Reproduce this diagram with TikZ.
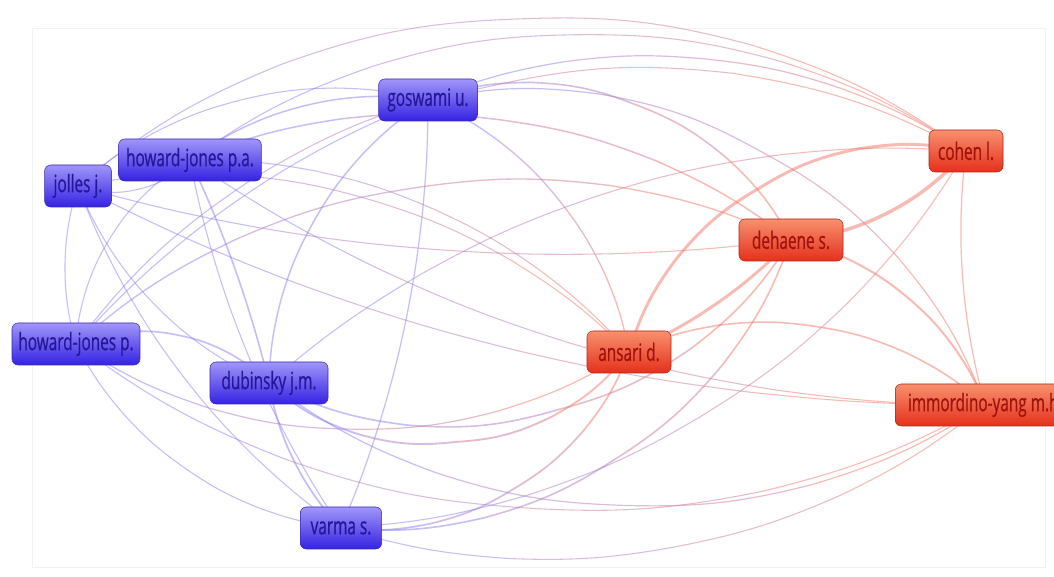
\documentclass[tikz,border=0pt]{standalone}
\usepackage{fontspec}
\newfontfamily\vosfont[FakeStretch=0.64,FakeBold=0.6]{Open Sans}
\usetikzlibrary{calc}
\pgfdeclarelayer{edges}
\pgfdeclarelayer{bg}
\pgfsetlayers{bg,edges,main}
\definecolor{eb}{HTML}{8C7FF0}
\definecolor{er}{HTML}{F2796A}
\definecolor{btop}{HTML}{A096F8}
\definecolor{bbot}{HTML}{3422E4}
\definecolor{bdraw}{HTML}{3A2AB0}
\definecolor{btext}{HTML}{26169A}
\definecolor{rtop}{HTML}{F7906E}
\definecolor{rbot}{HTML}{E6301C}
\definecolor{rdraw}{HTML}{B42414}
\definecolor{rtext}{HTML}{A0120A}
\tikzset{
  edge/.style={opacity=0.5},
  vnode/.style={rounded corners=4.5pt, minimum height=31.5pt, inner xsep=4pt, inner ysep=0pt,
    font=\vosfont\fontsize{18}{20}\selectfont},
  bn/.style={vnode, draw=bdraw, top color=btop, bottom color=bbot, text=btext},
  rn/.style={vnode, draw=rdraw, top color=rtop, bottom color=rbot, text=rtext}
}
\newcommand\gedge[6]{%
  \pgfmathsetmacro\gbh{(#3)/2}%
  \pgfmathsetmacro\gbq{(#3)/4}%
  \path (#1.center) to[bend left=#3] coordinate[pos=0.5] (gm) (#2.center);
  \path (#1.center) to[bend left=\gbh] coordinate[pos=0.5] (ga) (gm);
  \path (gm) to[bend left=\gbh] coordinate[pos=0.5] (gb) (#2.center);
  \draw[edge,line width=#6pt,color=#4] (#1.center) to[bend left=\gbq] (ga);
  \draw[edge,line width=#6pt,color=#4!65!#5] (ga) to[bend left=\gbq] (gm);
  \draw[edge,line width=#6pt,color=#4!35!#5] (gm) to[bend left=\gbq] (gb);
  \draw[edge,line width=#6pt,color=#5] (gb) to[bend left=\gbq] (#2.center);
}
\begin{document}
\begin{tikzpicture}[x=0.75pt,y=0.75pt]
\useasboundingbox (0,0) rectangle (1054,577);
\begin{pgfonlayer}{bg}
\fill[white] (0,0) rectangle (1054,577);
\draw[black!5] (32,10) rectangle (1045,549);
\end{pgfonlayer}
% nodes
\node[bn, minimum width=74pt]   (G)  at (428,477) {goswami u.};
\node[bn, minimum width=107pt]  (PA) at (190,417) {howard-jones p.a.};
\node[bn, minimum width=50pt]   (J)  at (78,391)  {jolles j.};
\node[bn, minimum width=96pt]   (P)  at (76,233)  {howard-jones p.};
\node[bn, minimum width=88.5pt] (D)  at (269,194) {dubinsky j.m.};
\node[bn, minimum width=61pt]   (V)  at (341,49)  {varma s.};
\node[rn, minimum width=63pt]   (A)  at (629,225) {ansari d.};
\node[rn, minimum width=78pt]   (DE) at (791,337) {dehaene s.};
\node[rn, minimum width=55.5pt] (C)  at (966,426) {cohen l.};
\node[rn, minimum width=135pt, anchor=west, inner xsep=9pt] (I) at (895,172) {immordino-yang m.h.};
\begin{pgfonlayer}{edges}
% blue cluster
\gedge{J}{PA}{-30}{eb}{eb}{0.8}
\gedge{J}{P}{-15}{eb}{eb}{0.8}
\gedge{J}{D}{-20}{eb}{eb}{0.8}
\gedge{J}{V}{-15}{eb}{eb}{0.8}
\gedge{J}{G}{25}{eb}{eb}{0.8}
\gedge{PA}{G}{20}{eb}{eb}{1.1}
\gedge{PA}{P}{-25}{eb}{eb}{0.8}
\gedge{PA}{D}{5}{eb}{eb}{1.2}
\gedge{PA}{V}{-10}{eb}{eb}{0.8}
\gedge{G}{D}{-25}{eb}{eb}{1.1}
\gedge{G}{V}{10}{eb}{eb}{0.9}
\gedge{G}{P}{-12}{eb}{eb}{0.8}
\gedge{P}{D}{30}{eb}{eb}{1.2}
\gedge{P}{V}{-25}{eb}{eb}{0.8}
\gedge{D}{V}{-15}{eb}{eb}{1.3}
% cross edges
\gedge{J}{C}{35}{eb}{er}{0.8}
\gedge{J}{DE}{-10}{eb}{er}{0.8}
\gedge{J}{A}{25}{eb}{er}{0.8}
\gedge{J}{I}{-12}{eb}{er}{0.8}
\gedge{PA}{C}{32}{eb}{er}{0.8}
\gedge{PA}{DE}{27}{eb}{er}{1.1}
\gedge{PA}{A}{22}{eb}{er}{0.8}
\gedge{PA}{I}{-15}{eb}{er}{0.8}
\gedge{G}{C}{25}{eb}{er}{0.9}
\gedge{G}{DE}{38}{eb}{er}{1.2}
\gedge{G}{A}{25}{eb}{er}{1.0}
\gedge{G}{I}{38}{eb}{er}{0.9}
\gedge{P}{C}{38}{eb}{er}{0.8}
\gedge{P}{DE}{30}{eb}{er}{1.0}
\gedge{P}{A}{-30}{eb}{er}{0.9}
\gedge{P}{I}{-30}{eb}{er}{0.8}
\gedge{D}{C}{20}{eb}{er}{0.8}
\gedge{D}{DE}{-40}{eb}{er}{1.2}
\gedge{D}{A}{-45}{eb}{er}{1.4}
\gedge{D}{I}{-32}{eb}{er}{0.9}
\gedge{V}{A}{-35}{eb}{er}{1.3}
\gedge{V}{DE}{-35}{eb}{er}{1.2}
\gedge{V}{C}{-25}{eb}{er}{0.8}
\gedge{V}{I}{-25}{eb}{er}{0.8}
% red cluster
\gedge{A}{DE}{-10}{er}{er}{2.2}
\gedge{A}{C}{40}{er}{er}{2.2}
\gedge{A}{I}{30}{er}{er}{1.2}
\gedge{DE}{C}{-20}{er}{er}{2.6}
\gedge{DE}{I}{25}{er}{er}{1.5}
\gedge{C}{I}{-10}{er}{er}{0.9}
\end{pgfonlayer}
\end{tikzpicture}
\end{document}
